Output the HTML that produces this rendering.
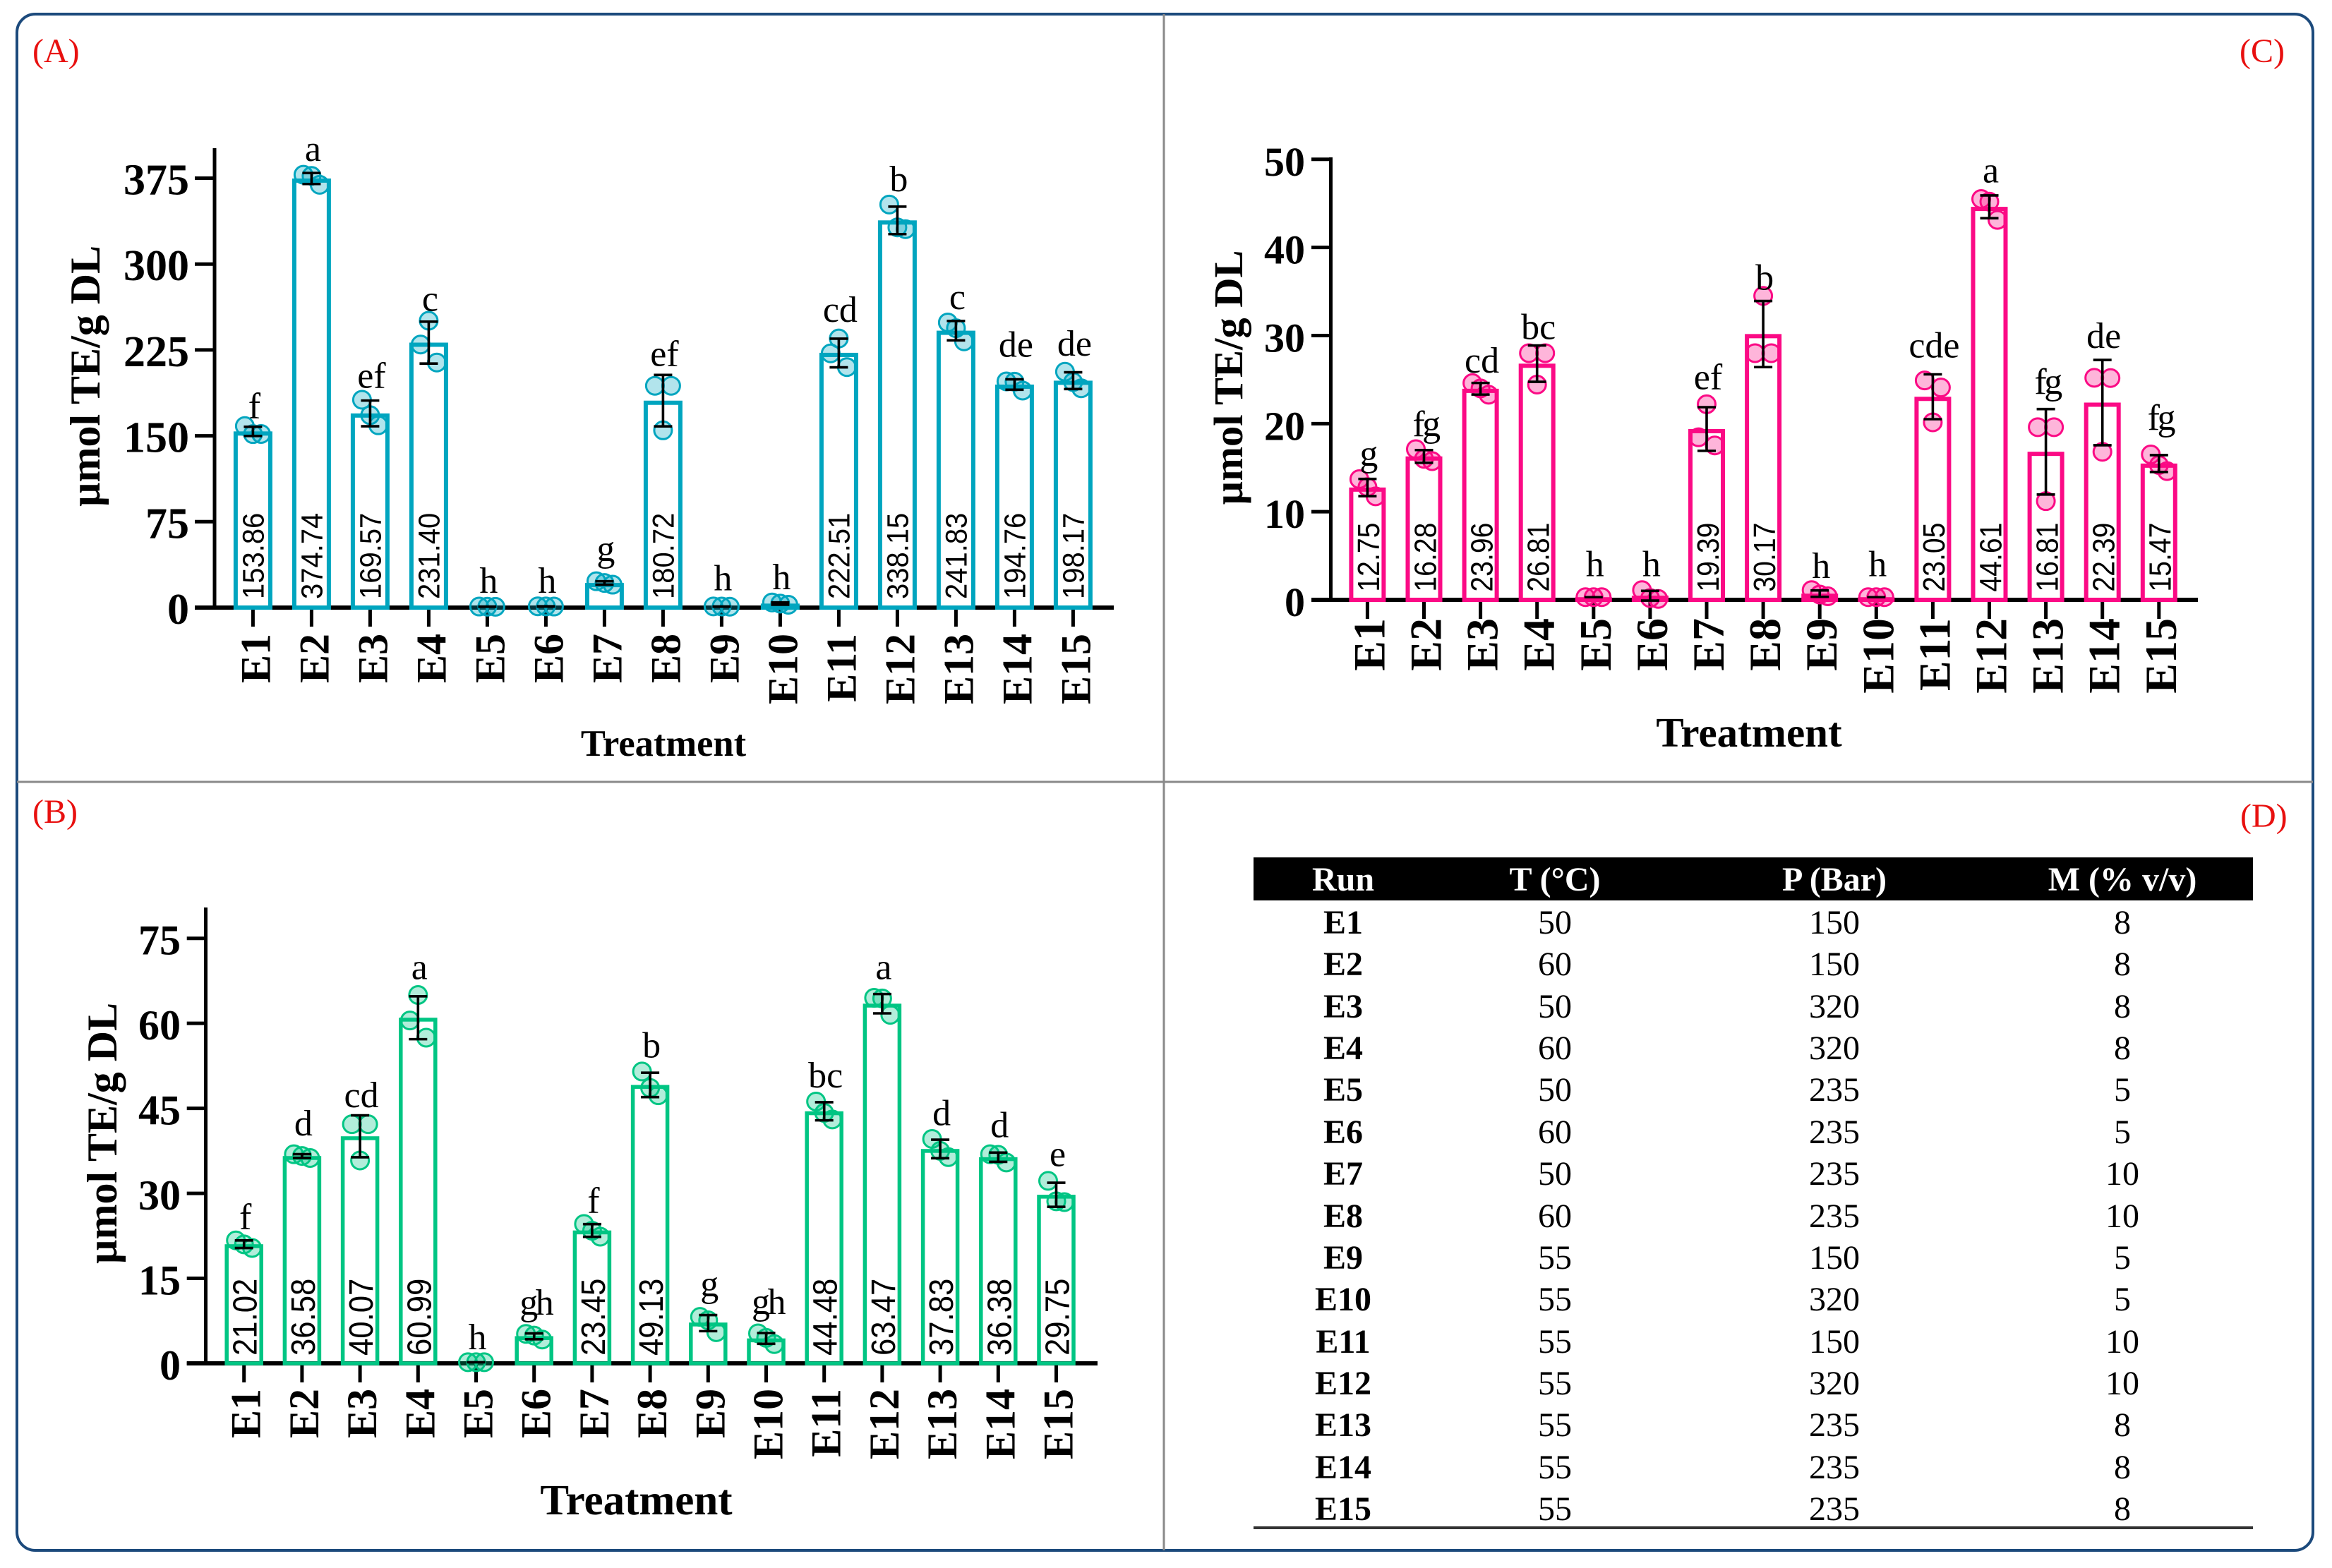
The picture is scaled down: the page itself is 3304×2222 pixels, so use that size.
<!DOCTYPE html>
<html lang="en">
<head>
<meta charset="utf-8">
<title>Antioxidant capacity by treatment</title>
<style>
  html, body { margin: 0; padding: 0; background: #fff; }
  #stage { position: relative; width: 3304px; height: 2222px; overflow: hidden; background: #fff; }
  #chart { position: absolute; left: 0; top: 0; }
  text { font-family: "Liberation Serif", serif; fill: #000; }
  .value { font-family: "Liberation Sans", sans-serif; }
  #run-table { position: absolute; left: 1776px; top: 1215px; width: 1416px; font-family: "Liberation Serif", serif; font-size: 48px; color: #000; }
  .head, .row { display: grid; grid-template-columns: 254px 346px 446px 370px; text-align: center; }
  .head { height: 61px; line-height: 64px; background: #000; color: #fff; font-weight: bold; margin-bottom: 2px; }
  .row { height: 59.36px; line-height: 59.36px; }
  .row span:first-child { font-weight: bold; }
  #table-rule { position: absolute; left: 1776px; top: 2163px; width: 1416px; height: 4px; background: #333; }
</style>
</head>
<body>
<div id="stage">
  <svg id="chart" xmlns="http://www.w3.org/2000/svg" width="3304" height="2222" viewBox="0 0 3304 2222">
    <rect x="24" y="20" width="3253" height="2177" rx="26" fill="none" stroke="#1c4a7c" stroke-width="4"/>
    <line x1="1649" y1="20" x2="1649" y2="2197" stroke="#8a8a8a" stroke-width="3"/>
    <line x1="24" y1="1108" x2="3277" y2="1108" stroke="#8a8a8a" stroke-width="3"/>
    <text x="46" y="88" font-size="48" style="fill:#e8100f">(A)</text>
    <text x="46" y="1166" font-size="48" style="fill:#e8100f">(B)</text>
    <text x="3173" y="88" font-size="48" style="fill:#e8100f">(C)</text>
    <text x="3174" y="1172" font-size="48" style="fill:#e8100f">(D)</text>
  </svg>

  <div id="run-table">
    <div class="head"><span>Run</span><span>T (°C)</span><span>P (Bar)</span><span>M (% v/v)</span></div>
    <div class="row"><span>E1</span><span>50</span><span>150</span><span>8</span></div>
    <div class="row"><span>E2</span><span>60</span><span>150</span><span>8</span></div>
    <div class="row"><span>E3</span><span>50</span><span>320</span><span>8</span></div>
    <div class="row"><span>E4</span><span>60</span><span>320</span><span>8</span></div>
    <div class="row"><span>E5</span><span>50</span><span>235</span><span>5</span></div>
    <div class="row"><span>E6</span><span>60</span><span>235</span><span>5</span></div>
    <div class="row"><span>E7</span><span>50</span><span>235</span><span>10</span></div>
    <div class="row"><span>E8</span><span>60</span><span>235</span><span>10</span></div>
    <div class="row"><span>E9</span><span>55</span><span>150</span><span>5</span></div>
    <div class="row"><span>E10</span><span>55</span><span>320</span><span>5</span></div>
    <div class="row"><span>E11</span><span>55</span><span>150</span><span>10</span></div>
    <div class="row"><span>E12</span><span>55</span><span>320</span><span>10</span></div>
    <div class="row"><span>E13</span><span>55</span><span>235</span><span>8</span></div>
    <div class="row"><span>E14</span><span>55</span><span>235</span><span>8</span></div>
    <div class="row"><span>E15</span><span>55</span><span>235</span><span>8</span></div>
  </div>
  <div id="table-rule"></div>
</div>

<script>
const categories = ["E1","E2","E3","E4","E5","E6","E7","E8","E9","E10","E11","E12","E13","E14","E15"];

/* Panel A */
const ticksA = [0, 75, 150, 225, 300, 375];
const meansA = [153.86, 374.74, 169.57, 231.40, 0.8, 1, 21.5, 180.72, 0.9, 3.5, 222.51, 338.15, 241.83, 194.76, 198.17];
const printedA = ["153.86","374.74","169.57","231.40","","","","180.72","","","222.51","338.15","241.83","194.76","198.17"];
const replicatesA = [[158.5,151.5,151.6],[378,377,369.2],[181.5,168,159.2],[229.7,250.5,214],[0.9,0.8,0.7],[1.1,1,0.9],[23,21.5,20],[193.7,154.8,193.7],[1,0.9,0.8],[4.5,3.5,2.5],[222,235,210],[352,332,330.5],[249,244,232.5],[197.5,197.3,189.5],[206,197,191.5]];
const lettersA = ["f","a","ef","c","h","h","g","ef","h","h","cd","b","c","de","de"];
const letterLevelsA = [165.6,390,192,259,13,13,40.6,211,15,16,249.6,363.6,260.7,219,220];

/* Panel B */
const ticksB = [0, 15, 30, 45, 60, 75];
const meansB = [21.02, 36.58, 40.07, 60.99, 0.2, 4.8, 23.45, 49.13, 7.2, 4.4, 44.48, 63.47, 37.83, 36.38, 29.75];
const printedB = ["21.02","36.58","40.07","60.99","","","23.45","49.13","","","44.48","63.47","37.83","36.38","29.75"];
const replicatesB = [[21.7,21,20.36],[36.9,36.6,36.24],[42.2,35.8,42.2],[60.5,65,57.47],[0.2,0.2,0.2],[5.2,4.9,4.2],[24.6,23.4,22.35],[51.5,48.6,47.3],[8.2,7.6,5.5],[5.3,4.5,3.4],[46.2,44.2,43.04],[64.5,64.4,61.5],[39.6,37.5,36.39],[36.9,36.8,35.44],[32.2,28.6,28.45]];
const lettersB = ["f","d","cd","a","h","gh","f","b","g","gh","bc","a","d","d","e"];
const letterLevelsB = [23.7,40.2,45.2,67.8,2.5,8.6,26.6,54,11.8,8.7,48.7,67.8,42,39.9,34.8];

/* Panel C */
const ticksC = [0, 10, 20, 30, 40, 50];
const meansC = [12.75, 16.28, 23.96, 26.81, 0.3, 0.47, 19.39, 30.17, 0.7, 0.3, 23.05, 44.61, 16.81, 22.39, 15.47];
const printedC = ["12.75","16.28","23.96","26.81","","","19.39","30.17","","","23.05","44.61","16.81","22.39","15.47"];
const replicatesC = [[13.7,12.8,11.75],[17.1,16,15.74],[24.6,24,23.28],[28,24.43,28],[0.3,0.3,0.3],[1.1,0.2,0.1],[18.45,22.2,17.52],[28,34.5,28],[1.1,0.6,0.4],[0.3,0.3,0.3],[24.9,20.15,24.1],[45.5,45.2,43.13],[19.6,11.2,19.6],[25.2,16.8,25.17],[16.5,15.3,14.61]];
const lettersC = ["g","fg","cd","bc","h","h","ef","b","h","h","cde","a","fg","de","fg"];
const letterLevelsC = [15.2,18.6,25.8,29.6,2.7,2.7,23.9,35.2,2.5,2.7,27.5,47.4,23.4,28.6,19.3];

const panelA = {
  id: "a", color: "#00a5bf", means: meansA, printed: printedA, replicates: replicatesA, letters: lettersA, levels: letterLevelsA, ticks: ticksA,
  axisX: 304, y0: 861, yTop: 252.5, vTop: 375, axisTopY: 210, firstX: 358.4, stepX: 83, axisEnd: 1578, tickLeft: 276,
  barW: 49, barStroke: 6,
  tickFont: 62, tickEnd: 268, catFont: 60, catTop: 898, catDx: 24,
  valFont: 43, valScale: 0.93, valBottom: 849, valDx: 15,
  titleFont: 60, titleX: 141, titleY: 533, xTitleFont: 52.5, xTitleX: 940, xTitleY: 1071
};
const panelB = {
  id: "b", color: "#00c583", means: meansB, printed: printedB, replicates: replicatesB, letters: lettersB, levels: letterLevelsB, ticks: ticksB,
  axisX: 291.5, y0: 1932, yTop: 1329.7, vTop: 75, axisTopY: 1286, firstX: 345.7, stepX: 82.2, axisEnd: 1555, tickLeft: 264.7,
  barW: 49, barStroke: 5.5,
  tickFont: 60, tickEnd: 256, catFont: 60, catTop: 1968, catDx: 23,
  valFont: 48, valScale: 0.91, valBottom: 1921, valDx: 18,
  titleFont: 60, titleX: 165, titleY: 1606, xTitleFont: 61, xTitleX: 901.5, xTitleY: 2146
};
const panelC = {
  id: "c", color: "#fb0a85", means: meansC, printed: printedC, replicates: replicatesC, letters: lettersC, levels: letterLevelsC, ticks: ticksC,
  axisX: 1885.5, y0: 850, yTop: 225.8, vTop: 50, axisTopY: 223, firstX: 1937.4, stepX: 80.1, axisEnd: 3114, tickLeft: 1858,
  barW: 46, barStroke: 6,
  tickFont: 58, tickEnd: 1849, catFont: 64, catTop: 876, catDx: 24,
  valFont: 44, valScale: 0.89, valBottom: 838.6, valDx: 16.8,
  titleFont: 58.5, titleX: 1760, titleY: 535, xTitleFont: 59, xTitleX: 2478, xTitleY: 1058
};

const SVG_NS = "http://www.w3.org/2000/svg";
const chartRoot = document.getElementById("chart");

function make(tag, attrs, parent) {
  const node = document.createElementNS(SVG_NS, tag);
  for (const key in attrs) node.setAttribute(key, attrs[key]);
  parent.appendChild(node);
  return node;
}

function meanOf(list) {
  return list.reduce(function (a, b) { return a + b; }, 0) / list.length;
}

function sdOf(list) {
  const m = meanOf(list);
  const sum = list.reduce(function (a, b) { return a + (b - m) * (b - m); }, 0);
  return Math.sqrt(sum / (list.length - 1));
}

function drawPanel(p) {
  const yScale = function (v) { return p.y0 - v * (p.y0 - p.yTop) / p.vTop; };
  const xScale = function (i) { return p.firstX + i * p.stepX; };

  const panel = make("g", {}, chartRoot);
  
  

  const yAxis = make("line", { x1: p.axisX, y1: p.axisTopY, x2: p.axisX, y2: p.y0 + 3, stroke: "#000", "stroke-width": 5 }, panel);
  
  

  const xAxis = make("line", { x1: p.tickLeft, y1: p.y0, x2: p.axisEnd, y2: p.y0, stroke: "#000", "stroke-width": 6 }, panel);
  
  

  p.ticks.forEach(function (t) {
    const y = yScale(t);
    const tick = make("line", { x1: p.tickLeft, y1: y, x2: p.axisX, y2: y, stroke: "#000", "stroke-width": 5 }, panel);
    
    
    const label = make("text", { x: p.tickEnd, y: y + 23, "text-anchor": "end", "font-size": p.tickFont, "font-weight": "bold" }, panel);
    label.textContent = String(t);
    
    
  });

  const yTitle = make("text", { transform: "translate(" + p.titleX + "," + p.titleY + ") rotate(-90)", "text-anchor": "middle", "font-size": p.titleFont, "font-weight": "bold" }, panel);
  yTitle.textContent = "µmol TE/g DL";
  
  

  const xTitle = make("text", { x: p.xTitleX, y: p.xTitleY, "text-anchor": "middle", "font-size": p.xTitleFont, "font-weight": "bold" }, panel);
  xTitle.textContent = "Treatment";
  
  

  categories.forEach(function (cat, i) {
    const cx = xScale(i);
    const slug = cat.toLowerCase();

    const tick = make("line", { x1: cx, y1: p.y0, x2: cx, y2: p.y0 + 27, stroke: "#000", "stroke-width": 5 }, panel);
    
    

    const catLabel = make("text", { transform: "translate(" + (cx + p.catDx) + "," + p.catTop + ") rotate(-90)", "text-anchor": "end", "font-size": p.catFont, "font-weight": "bold" }, panel);
    catLabel.textContent = cat;
    
    

    const top = yScale(p.means[i]) + p.barStroke / 2;
    const bar = make("rect", { x: cx - p.barW / 2, y: top, width: p.barW, height: Math.max(0, p.y0 - top), fill: "none", stroke: p.color, "stroke-width": p.barStroke }, panel);
    
    

    if (p.printed[i]) {
      const val = make("text", { class: "value", transform: "translate(" + (cx + p.valDx) + "," + p.valBottom + ") rotate(-90) scale(" + p.valScale + ",1)", "font-size": p.valFont }, panel);
      val.textContent = p.printed[i];
      
      
    }

    p.replicates[i].forEach(function (v, j) {
      const dot = make("circle", { cx: cx + (j - 1) * 11.5, cy: yScale(v), r: 12.5, fill: p.color, "fill-opacity": 0.3, stroke: p.color, "stroke-width": 3 }, panel);
      
      
    });

    const m = meanOf(p.replicates[i]);
    const sd = sdOf(p.replicates[i]);
    const hi = yScale(m + sd);
    const lo = yScale(m - sd);
    const stem = make("path", { d: "M" + cx + " " + hi + "V" + lo + "M" + (cx - 13) + " " + hi + "H" + (cx + 13) + "M" + (cx - 13) + " " + lo + "H" + (cx + 13), fill: "none", stroke: "#000", "stroke-width": 3.6 }, panel);
    
    

    const letter = make("text", { x: cx + 2, y: yScale(p.levels[i]), "text-anchor": "middle", "font-size": 52 }, panel);
    if (p.letters[i] === "fg" || p.letters[i] === "gh") letter.setAttribute("letter-spacing", "-3.5");
    letter.textContent = p.letters[i];
    
    
  });
}

drawPanel(panelA);
drawPanel(panelB);
drawPanel(panelC);
</script>
</body>
</html>
